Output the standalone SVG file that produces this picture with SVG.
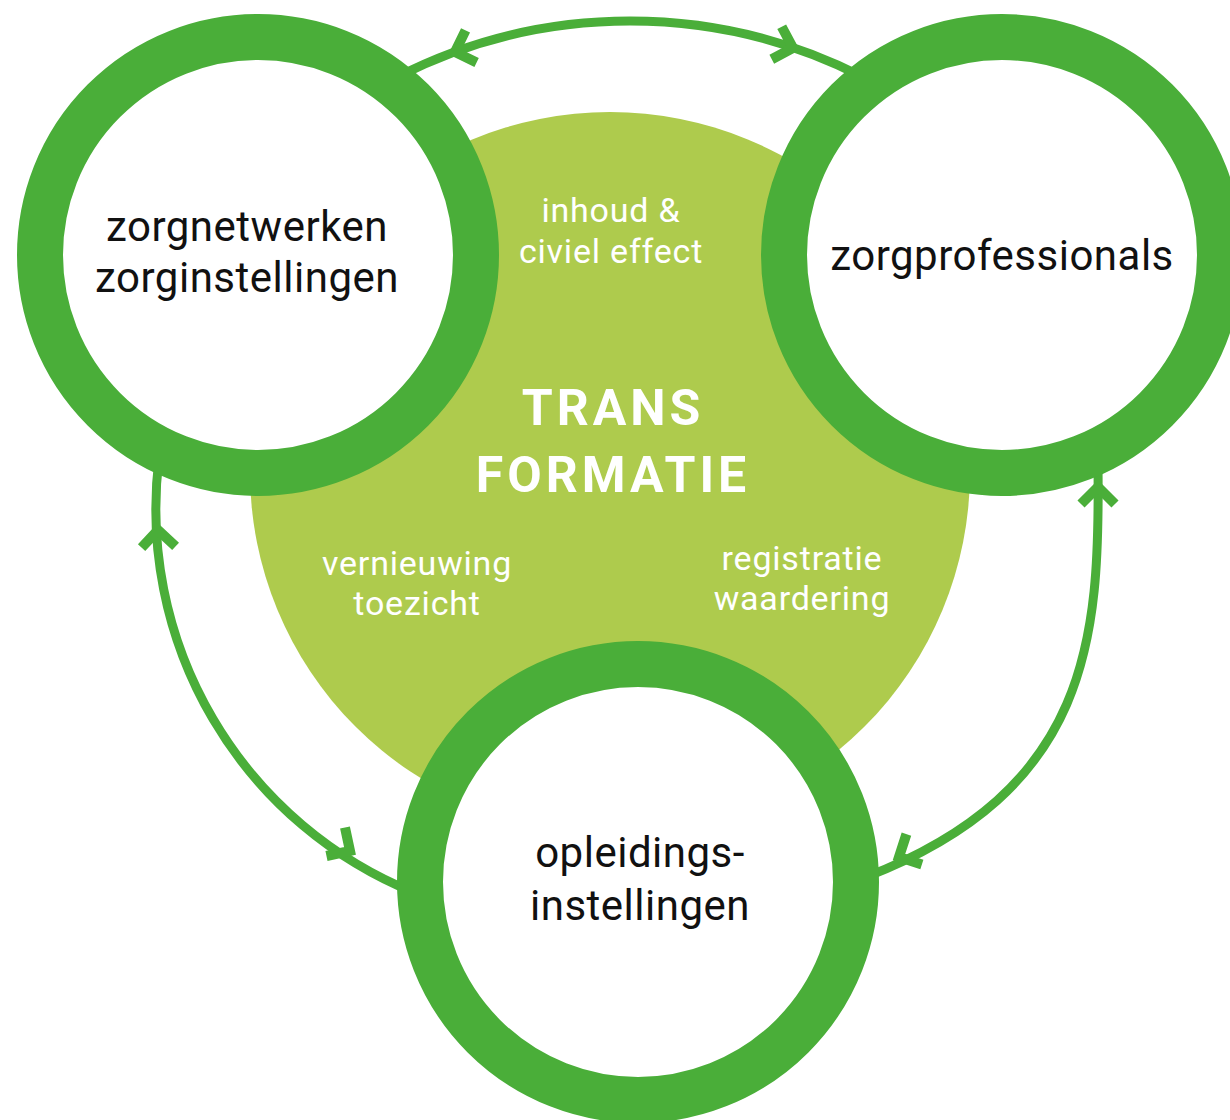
<svg xmlns="http://www.w3.org/2000/svg" xmlns:xlink="http://www.w3.org/1999/xlink" width="1230" height="1120" viewBox="0 0 1230 1120">
  <defs>
    <style>
      .ring { fill: #ffffff; stroke: #4aae39; stroke-width: 46; }
      .conn { fill: none; stroke: #4aae39; stroke-width: 9; }
      .chev { fill: none; stroke: #4aae39; stroke-width: 10; stroke-linejoin: miter; stroke-linecap: butt; }
      .node-text { font-family: Roboto, "Open Sans", "Liberation Sans", sans-serif; font-size: 42px; fill: #111111; text-anchor: middle; letter-spacing: 0.5px; }
      .sub-text { font-family: Roboto, "Open Sans", "Liberation Sans", sans-serif; font-size: 34px; font-weight: 400; fill: #ffffff; text-anchor: middle; letter-spacing: 0.8px; }
      .core-text { font-family: Roboto, "Open Sans", "Liberation Sans", sans-serif; font-size: 50px; font-weight: 700; fill: #ffffff; text-anchor: middle; letter-spacing: 4px; }
    </style>
    <path id="chevron" class="chev" d="M -17 -17 L 0 0 L -17 17"/>
  </defs>
  <rect width="1230" height="1120" fill="#ffffff"/>

  <g id="core">
    <circle cx="610" cy="472" r="360" fill="#aecb4d"/>
    <text class="core-text" x="613" y="425">TRANS</text>
    <text class="core-text" x="613" y="492">FORMATIE</text>
    <text class="sub-text" x="611" y="222">inhoud &amp;</text>
    <text class="sub-text" x="611" y="263">civiel effect</text>
    <text class="sub-text" x="417" y="575">vernieuwing</text>
    <text class="sub-text" x="417" y="615">toezicht</text>
    <text class="sub-text" x="802" y="570">registratie</text>
    <text class="sub-text" x="802" y="610">waardering</text>
  </g>

  <g id="connectors">
    <path class="conn" d="M 397.6 76.8 A 512 512 0 0 1 862.4 76.8"/>
    <path class="conn" d="M 159 458 A 414 414 0 0 0 415 893"/>
    <path class="conn" d="M 1098 466 C 1100 640 1090 790 866 877"/>
    <use xlink:href="#chevron" transform="translate(455 52) rotate(161)"/>
    <use xlink:href="#chevron" transform="translate(793 48) rotate(17)"/>
    <use xlink:href="#chevron" transform="translate(158 530) rotate(-92)"/>
    <use xlink:href="#chevron" transform="translate(350 851) rotate(33)"/>
    <use xlink:href="#chevron" transform="translate(1098 487) rotate(-90)"/>
    <use xlink:href="#chevron" transform="translate(899 857) rotate(153)"/>
  </g>

  <g id="node-zorgnetwerken">
    <circle class="ring" cx="258" cy="255" r="218"/>
    <text class="node-text" x="247" y="241">zorgnetwerken</text>
    <text class="node-text" x="247" y="292">zorginstellingen</text>
  </g>

  <g id="node-zorgprofessionals">
    <circle class="ring" cx="1002" cy="255" r="218"/>
    <text class="node-text" x="1002" y="270">zorgprofessionals</text>
  </g>

  <g id="node-opleidingsinstellingen">
    <circle class="ring" cx="638" cy="882" r="218"/>
    <text class="node-text" x="640" y="867">opleidings-</text>
    <text class="node-text" x="640" y="920">instellingen</text>
  </g>
</svg>
